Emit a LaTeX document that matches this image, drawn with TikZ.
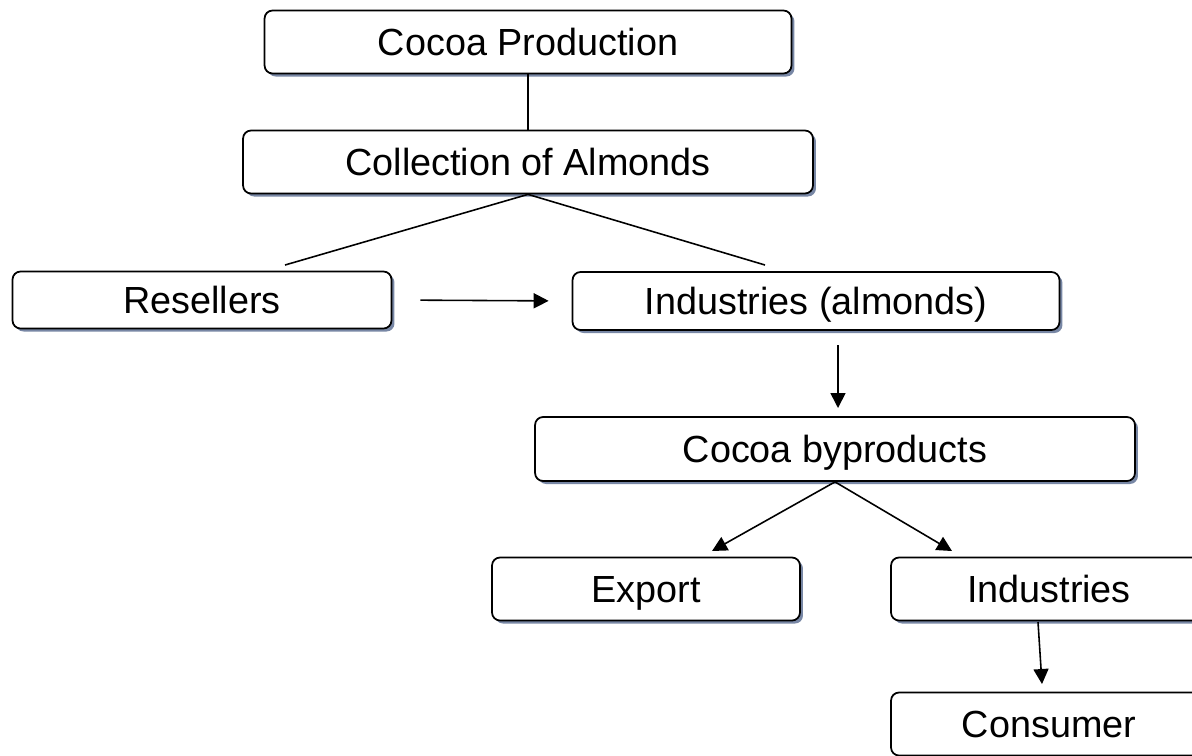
\documentclass[tikz,border=0pt]{standalone}
\usepackage{fontspec}
\setmainfont{Liberation Sans}
\usetikzlibrary{arrows.meta,shadows}
\definecolor{shade}{RGB}{120,135,165}
\tikzset{
  box/.style={draw, line width=1pt, rounded corners=0.16cm, fill=white, inner sep=0pt,
    font=\fontsize{21.5}{25}\selectfont, text height=0.7cm, text depth=0.16cm,
    drop shadow={shadow xshift=0.06cm, shadow yshift=-0.06cm, fill=shade, opacity=1}},
  link/.style={line width=0.9pt},
  flow/.style={line width=0.9pt, -{Triangle[length=0.3cm,width=0.3cm]}}
}
\begin{document}
\begin{tikzpicture}[x=0.02cm,y=-0.02cm]
    \useasboundingbox (0,0) rectangle (1192,755);
    \clip (0,0) rectangle (1192,755);

    \node[box, minimum width=10.54cm, minimum height=1.26cm] (cp) at (528,42) {Cocoa Production};
    \node[box, minimum width=11.4cm, minimum height=1.26cm] (ca) at (528,162) {Collection of Almonds};
    \node[box, minimum width=7.58cm, minimum height=1.14cm] (rs) at (202,300) {Resellers};
    \node[box, minimum width=9.74cm, minimum height=1.16cm] (ia) at (816,301) {Industries (almonds)};
    \node[box, minimum width=12cm, minimum height=1.28cm] (cb) at (835,449) {Cocoa byproducts};
    \node[box, minimum width=6.16cm, minimum height=1.26cm] (ex) at (646,589) {Export};
    \node[box, minimum width=6.32cm, minimum height=1.26cm] (in) at (1049,589) {Industries};
    \node[box, minimum width=6.32cm, minimum height=1.26cm] (co) at (1049,724) {Consumer};

    \coordinate (rsTop) at (285,265);
    \coordinate (iaTop) at (765,265);
    \coordinate (iaOut) at (838,345);
    \coordinate (cbIn) at (838,408);
    \coordinate (exTop) at (712,551);
    \coordinate (inTop) at (952,551);
    \coordinate (inOut) at (1038,622);
    \coordinate (coTop) at (1042,684);

    \draw[link] (cp.south) -- (ca.north);
    \draw[link] (ca.south) -- (rsTop);
    \draw[link] (ca.south) -- (iaTop);
    \draw[flow, shorten <=0.56cm, shorten >=0.46cm] (rs.east) -- (ia.west);
    \draw[flow] (iaOut) -- (cbIn);
    \draw[flow] (cb.south) -- (exTop);
    \draw[flow] (cb.south) -- (inTop);
    \draw[flow] (inOut) -- (coTop);
\end{tikzpicture}
\end{document}
